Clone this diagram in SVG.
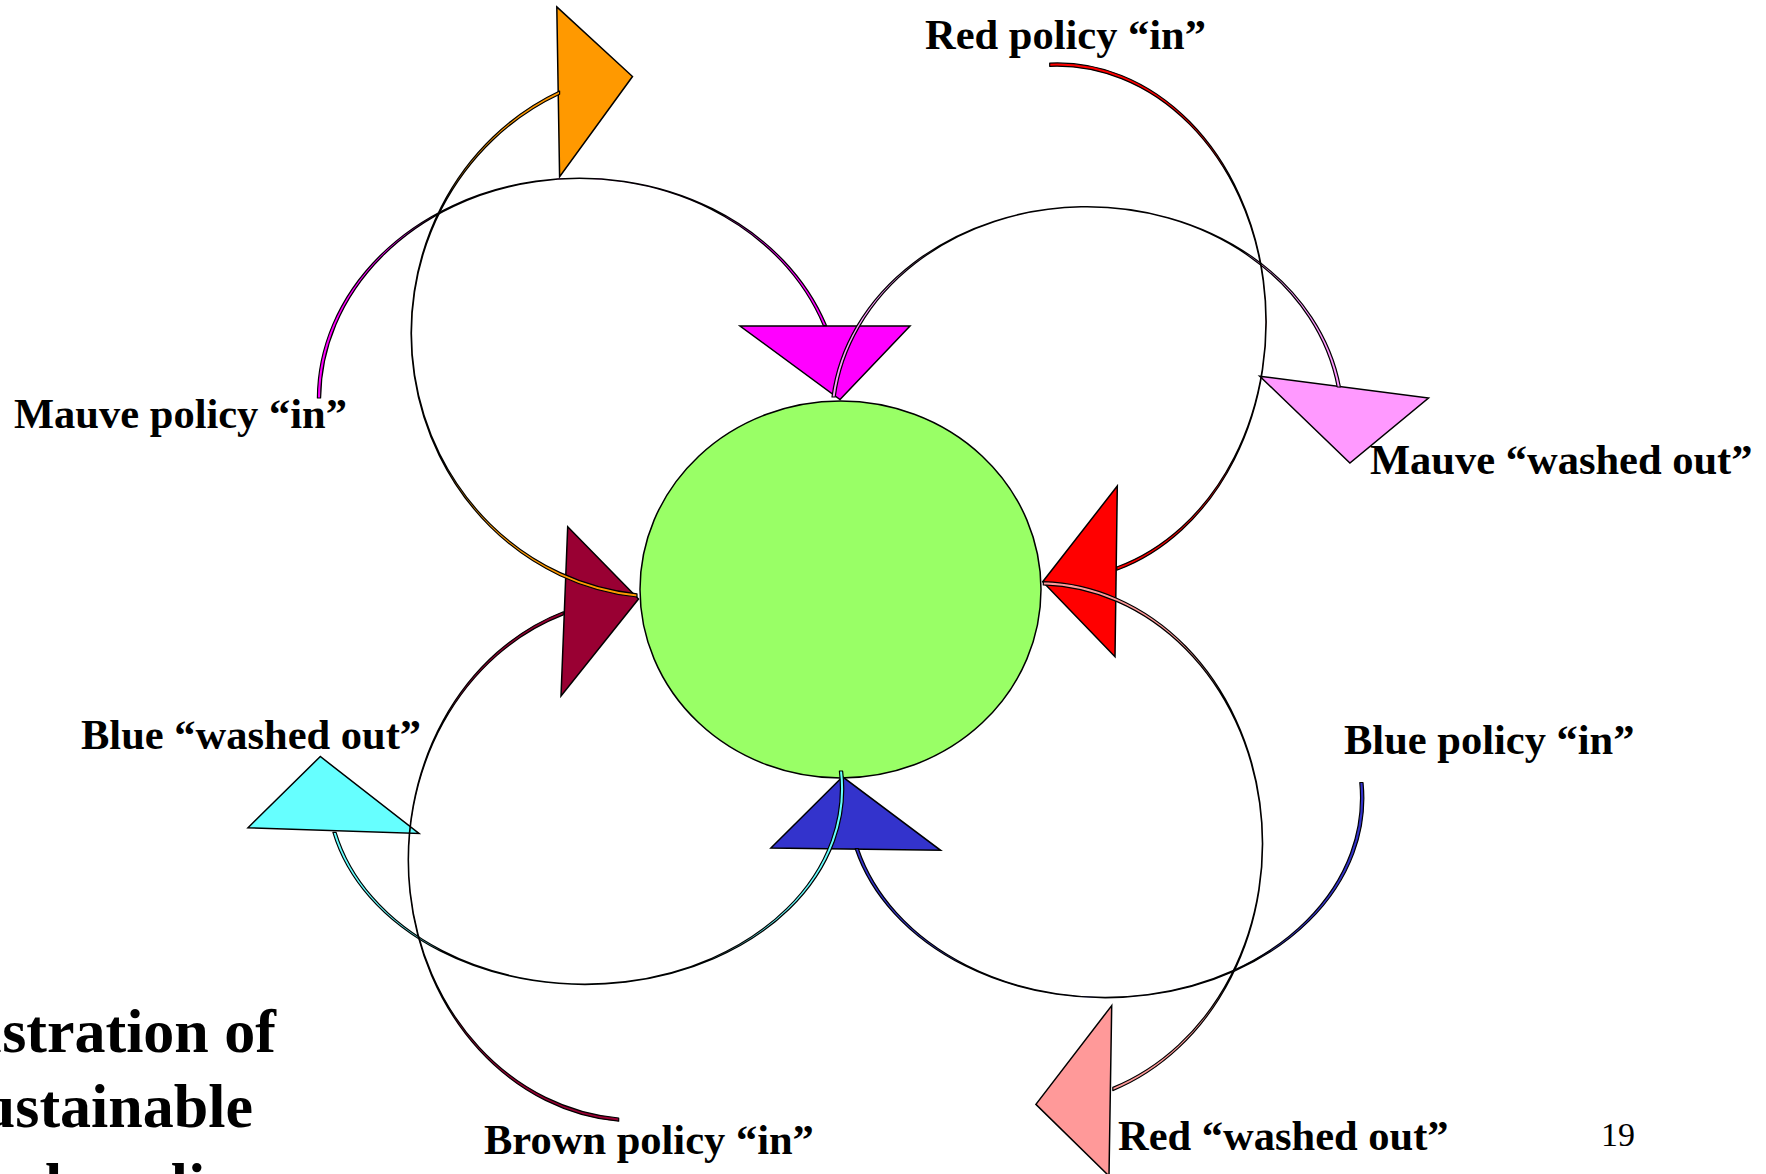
<svg xmlns="http://www.w3.org/2000/svg" width="1766" height="1174" viewBox="0 0 1766 1174">
<style>
.lbl{font-family:"Liberation Serif","Times New Roman",serif;font-weight:bold;font-size:42.5px;fill:#000}
.title{font-family:"Liberation Serif","Times New Roman",serif;font-weight:bold;font-size:62px;fill:#000}
.num{font-family:"Liberation Serif","Times New Roman",serif;font-size:34px;fill:#000}
.tri{stroke:#000;stroke-width:1.5;stroke-linejoin:miter}
.arc{stroke:#000;stroke-width:1.2;stroke-linejoin:round}
</style>
<rect width="1766" height="1174" fill="#fff"/>
<g id="pool"><ellipse cx="840.5" cy="589.5" rx="200.5" ry="188.5" fill="#99FF66" stroke="#000" stroke-width="1.5"/></g>
<g id="heads">
<polygon id="head-orange" class="tri" fill="#FF9900" points="556.8,6.9 632.5,76.5 559.6,176.8"/>
<polygon id="head-mauve-in" class="tri" fill="#FF00FF" points="740,326 910,326 840,399.5"/>
<polygon id="head-brown-in" class="tri" fill="#990033" points="567.7,526.7 638.5,599 561,696"/>
<polygon id="head-red-in" class="tri" fill="#FF0000" points="1117.3,486 1042.7,581.7 1115,656.7"/>
<polygon id="head-mauve-out" class="tri" fill="#FF99FF" points="1259.8,376.2 1428.5,398 1349.9,463"/>
<polygon id="head-blue-in" class="tri" fill="#3333CC" points="770.9,848 842.6,776.8 940.6,850.3"/>
<polygon id="head-blue-out" class="tri" fill="#66FFFF" points="320.3,756.5 248,827.7 419,833.4"/>
<polygon id="head-red-out" class="tri" fill="#FF9999" points="1111.7,1005.6 1035.9,1104.4 1109,1176"/>
</g>
<g id="connectors">
<path id="arc-orange" class="arc" fill="#FF9900" d="M637,597 A250 265 0 0 1 559.6,91 L559.6,94.2 A250 261.8 0 0 0 637,593.8 Z"/>
<path id="arc-mauve-in" class="arc" fill="#FF00FF" d="M317.4,398 A262 221 0 0 1 826.5,325.6 L823.3,325.6 A258.8 221 0 0 0 320.6,398 Z"/>
<path id="arc-mauve-out" class="arc" fill="#FF99FF" d="M832,397 A256.5 213.4 0 0 1 1340.4,387 L1337.2,387 A253.3 213.4 0 0 0 835.2,397 Z"/>
<path id="arc-red-in" class="arc" fill="#FF0000" d="M1049.7,63.1 A209 259 0 0 1 1116.8,570.2 L1116.8,567 A209 255.8 0 0 0 1049.7,66.3 Z"/>
<path id="arc-red-out" class="arc" fill="#FF9999" d="M1043.3,581.7 A225 262 0 0 1 1112.8,1090.6 L1112.8,1087.4 A225 258.8 0 0 0 1043.3,584.9 Z"/>
<path id="arc-blue-in" class="arc" fill="#3333CC" d="M1363,782.5 A258.5 199.5 0 0 1 855.2,848.7 L858.4,848.7 A255.3 199.5 0 0 0 1359.8,782.5 Z"/>
<path id="arc-blue-out" class="arc" fill="#66FFFF" d="M842.6,771 A258.6 195.5 0 0 1 332.9,832.3 L336.1,832.3 A255.4 195.5 0 0 0 839.4,771 Z"/>
<path id="arc-brown-in" class="arc" fill="#990033" d="M618.7,1121.2 A228 262 0 0 1 563.3,611.7 L563.3,614.9 A228 258.8 0 0 0 618.7,1118 Z"/>
</g>
<g id="labels">
<text id="lbl-mauve-in" class="lbl" x="14" y="428">Mauve policy “in”</text>
<text id="lbl-red-in" class="lbl" x="925" y="48.5">Red policy “in”</text>
<text id="lbl-mauve-out" class="lbl" x="1370" y="474">Mauve “washed out”</text>
<text id="lbl-blue-out" class="lbl" x="81" y="749">Blue “washed out”</text>
<text id="lbl-blue-in" class="lbl" x="1344" y="754">Blue policy “in”</text>
<text id="lbl-brown-in" class="lbl" x="484" y="1154">Brown policy “in”</text>
<text id="lbl-red-out" class="lbl" x="1118" y="1150">Red “washed out”</text>
<text id="page-num" class="num" x="1601" y="1146">19</text>
</g>
<g id="title">
<text class="title" x="276" y="1052" text-anchor="end">Illustration of</text>
<text class="title" x="253" y="1127" text-anchor="end">unsustainable</text>
<text class="title" x="-41" y="1206">cycle policy</text>
</g>
</svg>
